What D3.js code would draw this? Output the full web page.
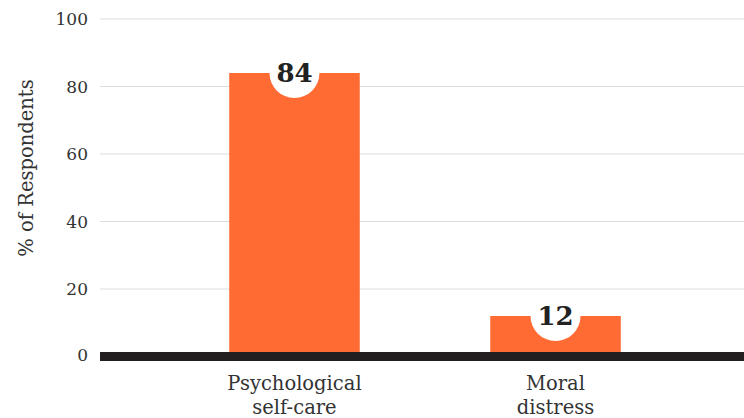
<!DOCTYPE html>
<html>
<head>
<meta charset="utf-8">
<script src="https://cdn.jsdelivr.net/npm/d3@7"></script>
<style>
  body { margin: 0; background: #fff; }
  text { font-family: "DejaVu Serif", serif; }
</style>
</head>
<body>
<div id="chart"></div>
<script>
const categories = [["Psychological", "self-care"], ["Moral", "distress"]];
const values = [84, 12];
const yTicks = [0, 20, 40, 60, 80, 100];

const width = 744, height = 418;
const margin = { top: 19, right: 0, bottom: 62, left: 100 };

const svg = d3.select("#chart").append("svg")
  .attr("width", width)
  .attr("height", height);

const y = d3.scaleLinear()
  .domain([0, 100])
  .range([356.5, margin.top]);

const x = d3.scaleBand()
  .domain(d3.range(values.length))
  .range([106, width])
  .paddingInner(0.5)
  .paddingOuter(0.472);

// gridlines
svg.append("g")
  .selectAll("line")
  .data(yTicks.filter(d => d > 0))
  .join("line")
  .attr("x1", margin.left)
  .attr("x2", width)
  .attr("y1", d => y(d))
  .attr("y2", d => y(d))
  .attr("stroke", "#dcdcdc")
  .attr("stroke-width", 1);

// y tick labels
svg.append("g")
  .selectAll("text")
  .data(yTicks)
  .join("text")
  .attr("x", 88)
  .attr("y", d => d === 0 ? y(d) - 1.5 : y(d))
  .attr("dy", "0.36em")
  .attr("text-anchor", "end")
  .attr("fill", "#333")
  .style("font-size", "17px")
  .text(d => d);

// y axis title
svg.append("text")
  .attr("transform", "translate(33,168) rotate(-90)")
  .attr("text-anchor", "middle")
  .attr("fill", "#333")
  .style("font-size", "19.5px")
  .text("% of Respondents");

// bars
svg.append("g")
  .selectAll("rect")
  .data(values)
  .join("rect")
  .attr("x", (d, i) => x(i))
  .attr("y", d => y(d))
  .attr("width", x.bandwidth())
  .attr("height", d => y(0) - y(d))
  .attr("fill", "#ff6b33");

// white circles behind value labels
svg.append("g")
  .selectAll("circle")
  .data(values)
  .join("circle")
  .attr("cx", (d, i) => x(i) + x.bandwidth() / 2)
  .attr("cy", d => y(d))
  .attr("r", 25)
  .attr("fill", "#fff");

// value labels
svg.append("g")
  .selectAll("text")
  .data(values)
  .join("text")
  .attr("x", (d, i) => x(i) + x.bandwidth() / 2)
  .attr("y", d => y(d))
  .attr("dy", "0.36em")
  .attr("text-anchor", "middle")
  .attr("fill", "#222")
  .style("font-size", "26px")
  .style("font-weight", "bold")
  .text(d => d);

// baseline
svg.append("rect")
  .attr("x", margin.left)
  .attr("y", y(0) - 4.5)
  .attr("width", width - margin.left)
  .attr("height", 9)
  .attr("fill", "#231f20");

// category labels
const cat = svg.append("g")
  .selectAll("text")
  .data(categories)
  .join("text")
  .attr("x", (d, i) => x(i) + x.bandwidth() / 2)
  .attr("y", 390)
  .attr("text-anchor", "middle")
  .attr("fill", "#333")
  .style("font-size", "19.5px");

cat.selectAll("tspan")
  .data(d => d)
  .join("tspan")
  .attr("x", function () { return this.parentNode.getAttribute("x"); })
  .attr("dy", (d, i) => i === 0 ? 0 : 23.5)
  .text(d => d);
</script>
</body>
</html>
